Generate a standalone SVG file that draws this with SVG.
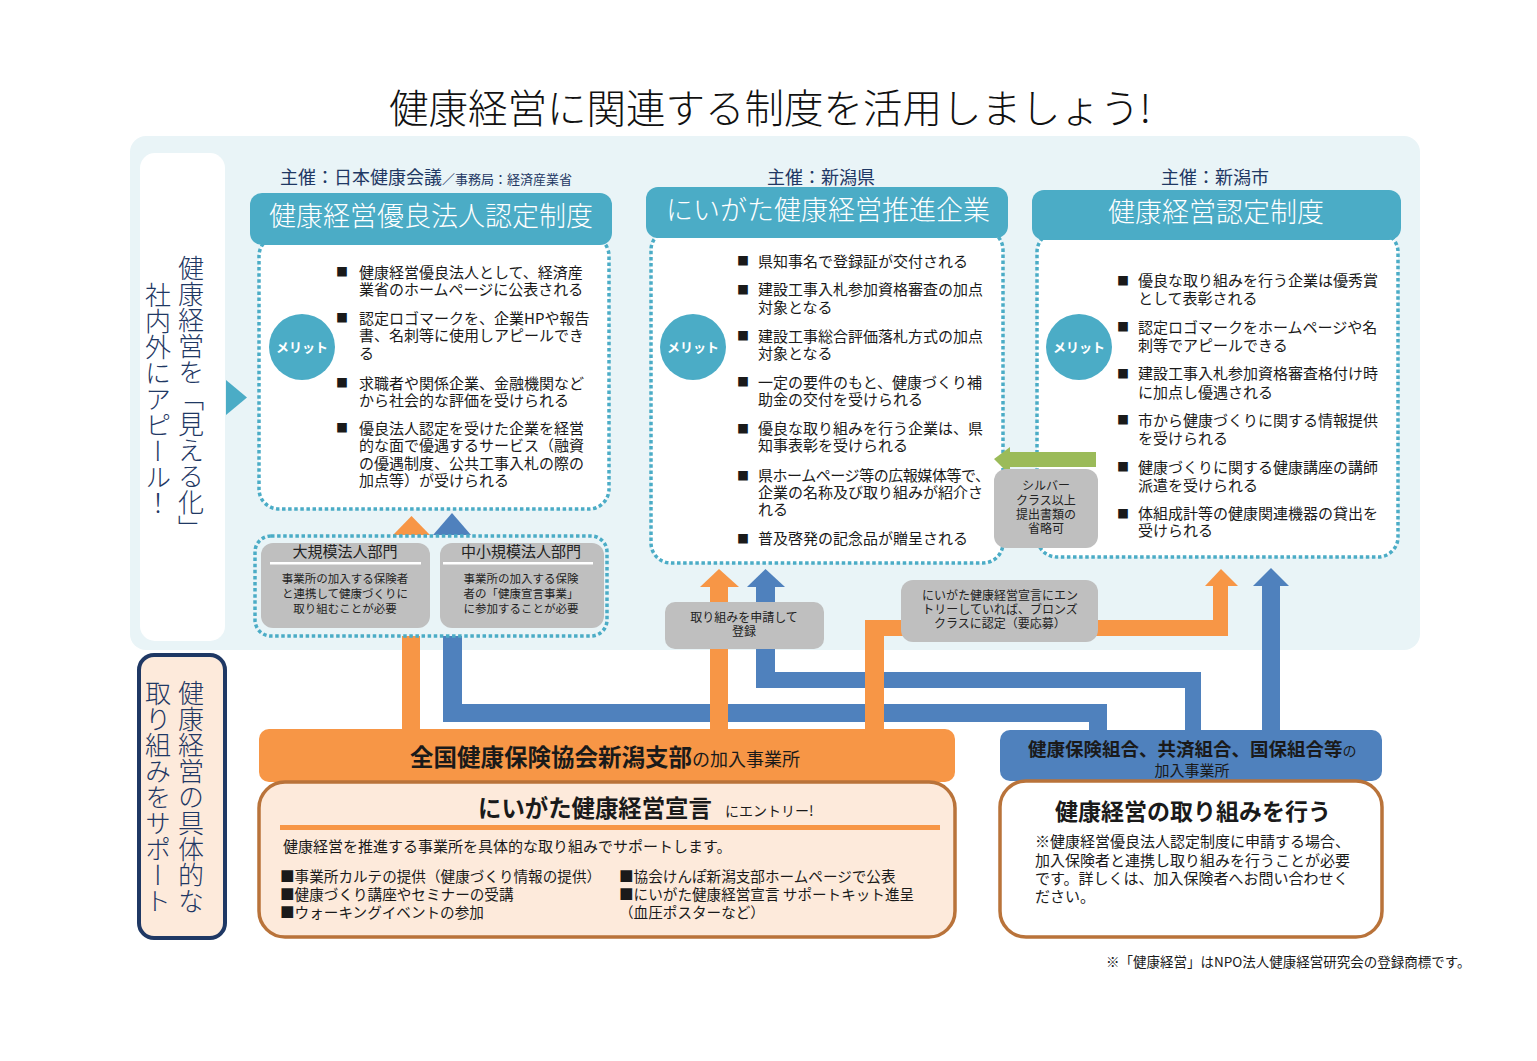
<svg xmlns="http://www.w3.org/2000/svg" width="1537" height="1061" viewBox="0 0 1537 1061">
<defs>
<style>
text{font-family:"Noto Sans CJK JP","Noto Sans",sans-serif;fill:#1a1a1a}
.ttl{font-size:39.5px;font-weight:300;fill:#111}
.sponsor{font-size:18px;fill:#1f3864}
.hdr{font-size:27px;fill:#fff;text-anchor:middle;font-weight:300}
.dot{fill:#fff;stroke:#4bacc6;stroke-width:3.5;stroke-dasharray:3.5 2.6}
.hbox{fill:#4bacc6}
.merit{fill:#4bacc6}
.mt{font-size:13px;font-weight:700;fill:#fff;text-anchor:middle}
.b{font-size:15px}
.bl{font-size:12px}
.vt{font-size:26px;fill:#1f3864;writing-mode:vertical-rl;font-weight:300}
.gray{fill:#bfbfbf}
.gs{font-size:12px;text-anchor:middle;fill:#222}
.gh{font-size:15px;text-anchor:middle;fill:#222}
.gb{font-size:11.5px;text-anchor:middle;fill:#222}
.or{fill:#f79646}
.bu{fill:#4f81bd}
.s{font-size:14.6px}
</style>
</defs>
<rect width="1537" height="1061" fill="#fff"/>
<text class="ttl" x="770" y="123" text-anchor="middle">健康経営に関連する制度を活用しましょう!</text>

<g id="panel">
<rect x="130" y="136" width="1290" height="514" rx="16" fill="#e9f4f7"/>
</g>

<g id="label-top">
<rect x="140" y="153" width="85" height="488" rx="15" fill="#fff"/>
<text class="vt" x="191" y="255">健康経営を「見える化」</text>
<text class="vt" x="158" y="282">社内外にアピール！</text>
<polygon points="226,380 247,397.5 226,415" fill="#4bacc6"/>
</g>

<g id="connectors">
<rect class="bu" x="443" y="636" width="19" height="86"/>
<rect class="bu" x="443" y="704" width="664" height="18"/>
<rect class="bu" x="1089" y="704" width="18" height="27"/>
<rect class="bu" x="756" y="585" width="19" height="103"/>
<polygon class="bu" points="747,587 765.5,569 785,587"/>
<rect class="bu" x="756" y="672" width="445" height="16"/>
<rect class="bu" x="1185" y="672" width="16" height="59"/>
<rect class="bu" x="1262" y="584" width="18" height="147"/>
<polygon class="bu" points="1253,586 1271,568 1289,586"/>
<polygon class="bu" points="433,535 452,513 471,535"/>
<rect class="or" x="402" y="636" width="18" height="95"/>
<rect class="or" x="710" y="585" width="18" height="146"/>
<polygon class="or" points="700,587 719,569 739,587"/>
<rect class="or" x="865" y="620" width="19" height="111"/>
<rect class="or" x="865" y="620" width="363" height="16"/>
<rect class="or" x="1213" y="584" width="15" height="52"/>
<polygon class="or" points="1205,586 1221,569 1238,586"/>
<polygon class="or" points="393,535 411.5,516 430,535"/>
</g>

<g id="node-yuryo">
<text class="sponsor" x="280" y="184">主催：日本健康会議<tspan font-size="13">／事務局：経済産業省</tspan></text>
<rect class="dot" x="259" y="236" width="350" height="273" rx="20"/>
<rect class="hbox" x="250" y="193" width="362" height="52" rx="12"/>
<text class="hdr" x="431" y="226">健康経営優良法人認定制度</text>
<circle class="merit" cx="302" cy="347" r="33"/>
<text class="mt" x="302" y="352">メリット</text>
<g class="b">
<text class="bl" x="336" y="277">■</text><text x="359" y="277.5">健康経営優良法人として、経済産</text>
<text x="359" y="295">業省のホームページに公表される</text>
<text class="bl" x="336" y="323">■</text><text x="359" y="323.5">認定ロゴマークを、企業HPや報告</text>
<text x="359" y="341">書、名刺等に使用しアピールでき</text>
<text x="359" y="358.5">る</text>
<text class="bl" x="336" y="388">■</text><text x="359" y="388.5">求職者や関係企業、金融機関など</text>
<text x="359" y="406">から社会的な評価を受けられる</text>
<text class="bl" x="336" y="433">■</text><text x="359" y="433.5">優良法人認定を受けた企業を経営</text>
<text x="359" y="451">的な面で優遇するサービス（融資</text>
<text x="359" y="468.5">の優遇制度、公共工事入札の際の</text>
<text x="359" y="486">加点等）が受けられる</text>
</g>
</g>

<g id="node-niigata-ken">
<text class="sponsor" x="821" y="184" text-anchor="middle">主催：新潟県</text>
<rect class="dot" x="651" y="230" width="352" height="333" rx="20"/>
<rect class="hbox" x="646" y="187" width="362" height="51" rx="12"/>
<text class="hdr" x="828" y="220">にいがた健康経営推進企業</text>
<circle class="merit" cx="693" cy="347" r="33"/>
<text class="mt" x="693" y="352">メリット</text>
<g class="b">
<text class="bl" x="737" y="266">■</text><text x="758" y="266.5">県知事名で登録証が交付される</text>
<text class="bl" x="737" y="294.5">■</text><text x="758" y="295">建設工事入札参加資格審査の加点</text>
<text x="758" y="312.5">対象となる</text>
<text class="bl" x="737" y="341">■</text><text x="758" y="341.5">建設工事総合評価落札方式の加点</text>
<text x="758" y="359">対象となる</text>
<text class="bl" x="737" y="387">■</text><text x="758" y="387.5">一定の要件のもと、健康づくり補</text>
<text x="758" y="405">助金の交付を受けられる</text>
<text class="bl" x="737" y="433.5">■</text><text x="758" y="434">優良な取り組みを行う企業は、県</text>
<text x="758" y="451">知事表彰を受けられる</text>
<text class="bl" x="737" y="480.5">■</text><text x="758" y="481" textLength="232">県ホームページ等の広報媒体等で、</text>
<text x="758" y="498">企業の名称及び取り組みが紹介さ</text>
<text x="758" y="515">れる</text>
<text class="bl" x="737" y="543.5">■</text><text x="758" y="544">普及啓発の記念品が贈呈される</text>
</g>
</g>

<g id="node-niigata-shi">
<text class="sponsor" x="1215" y="184" text-anchor="middle">主催：新潟市</text>
<rect class="dot" x="1037" y="232" width="361" height="325" rx="20"/>
<rect class="hbox" x="1032" y="190" width="369" height="50" rx="12"/>
<text class="hdr" x="1216" y="222">健康経営認定制度</text>
<circle class="merit" cx="1079" cy="347" r="33"/>
<text class="mt" x="1079" y="352">メリット</text>
<g class="b">
<text class="bl" x="1117" y="285.5">■</text><text x="1138" y="286">優良な取り組みを行う企業は優秀賞</text>
<text x="1138" y="304">として表彰される</text>
<text class="bl" x="1117" y="332">■</text><text x="1138" y="332.5">認定ロゴマークをホームページや名</text>
<text x="1138" y="350.5">刺等でアピールできる</text>
<text class="bl" x="1117" y="378.5">■</text><text x="1138" y="379">建設工事入札参加資格審査格付け時</text>
<text x="1138" y="397.5">に加点し優遇される</text>
<text class="bl" x="1117" y="425">■</text><text x="1138" y="425.5">市から健康づくりに関する情報提供</text>
<text x="1138" y="444">を受けられる</text>
<text class="bl" x="1117" y="472">■</text><text x="1138" y="472.5">健康づくりに関する健康講座の講師</text>
<text x="1138" y="491">派遣を受けられる</text>
<text class="bl" x="1117" y="518.5">■</text><text x="1138" y="519">体組成計等の健康関連機器の貸出を</text>
<text x="1138" y="536">受けられる</text>
</g>
</g>

<g id="node-silver">
<polygon points="994,459 1010,447 1010,452 1096,452 1096,467 1010,467 1010,475" fill="#9bbb59"/>
<rect class="gray" x="994" y="469" width="104" height="79" rx="12"/>
<text class="gs" x="1046" y="489.5">シルバー</text>
<text class="gs" x="1046" y="504.5">クラス以上</text>
<text class="gs" x="1046" y="519">提出書類の</text>
<text class="gs" x="1046" y="533">省略可</text>
</g>

<g id="node-sections">
<rect class="dot" x="255" y="536" width="352" height="100" rx="16" style="fill:none"/>
<rect class="gray" x="261" y="543" width="169" height="85" rx="12"/>
<rect class="gray" x="440" y="543" width="164" height="85" rx="12"/>
<text class="gh" x="345" y="557">大規模法人部門</text>
<text class="gh" x="521" y="557">中小規模法人部門</text>
<rect x="270" y="562" width="151" height="2.5" fill="#fff"/>
<rect x="443" y="562" width="150" height="2.5" fill="#fff"/>
<text class="gb" x="345" y="582.5">事業所の加入する保険者</text>
<text class="gb" x="345" y="597.5">と連携して健康づくりに</text>
<text class="gb" x="345" y="612.5">取り組むことが必要</text>
<text class="gb" x="521" y="582.5">事業所の加入する保険</text>
<text class="gb" x="521" y="597.5">者の「健康宣言事業」</text>
<text class="gb" x="521" y="612.5">に参加することが必要</text>
</g>

<g id="node-apply">
<rect class="gray" x="665" y="602" width="159" height="47" rx="10"/>
<text class="gs" x="744" y="621.5">取り組みを申請して</text>
<text class="gs" x="744" y="635.5">登録</text>
</g>

<g id="node-bronze">
<rect class="gray" x="901" y="580" width="197" height="62" rx="12"/>
<text class="gs" x="1000" y="599.5">にいがた健康経営宣言にエン</text>
<text class="gs" x="1000" y="614">トリーしていれば、ブロンズ</text>
<text class="gs" x="1000" y="627.5">クラスに認定（要応募）</text>
</g>

<g id="label-bottom">
<rect x="139" y="655" width="86" height="283" rx="15" fill="#fdeadb" stroke="#1f3864" stroke-width="4"/>
<text class="vt" x="191" y="680">健康経営の具体的な</text>
<text class="vt" x="158" y="680">取り組みをサポート</text>
</g>

<g id="node-kyokai">
<rect x="259" y="729" width="696" height="53" rx="10" fill="#f79646"/>
<text x="410" y="766" font-size="23.5" font-weight="700" fill="#111">全国健康保険協会新潟支部<tspan font-size="18" font-weight="400">の加入事業所</tspan></text>
<rect x="259" y="782" width="696" height="155" rx="26" fill="#fdeadb" stroke="#b9733a" stroke-width="3.5"/>
<text x="478" y="817" font-size="23.4" font-weight="700" fill="#111">にいがた健康経営宣言</text>
<text x="725" y="816" font-size="14">にエントリー!</text>
<rect x="280" y="825" width="660" height="5" fill="#f79646"/>
<text class="b" x="283" y="851.5">健康経営を推進する事業所を具体的な取り組みでサポートします。</text>
<text class="s" x="280" y="881.5">■事業所カルテの提供（健康づくり情報の提供）</text>
<text class="s" x="280" y="899.5">■健康づくり講座やセミナーの受講</text>
<text class="s" x="280" y="917.5">■ウォーキングイベントの参加</text>
<text class="s" x="619" y="881.5">■協会けんぽ新潟支部ホームページで公表</text>
<text class="s" x="619" y="899.5">■にいがた健康経営宣言 サポートキット進呈</text>
<text class="s" x="619" y="917.5">（血圧ポスターなど）</text>
</g>

<g id="node-kenpo">
<rect x="1000" y="730" width="382" height="51" rx="10" fill="#4f81bd"/>
<text x="1028" y="756" font-size="18.5" font-weight="700" fill="#fff">健康保険組合、共済組合、国保組合等<tspan font-size="14" font-weight="400">の</tspan></text>
<text x="1192" y="776" font-size="15" text-anchor="middle" fill="#fff">加入事業所</text>
<rect x="1000" y="781" width="382" height="156" rx="26" fill="#fff" stroke="#b9733a" stroke-width="3.5"/>
<text x="1193" y="820" font-size="23" font-weight="700" text-anchor="middle" fill="#1f497d">健康経営の取り組みを行う</text>
<text class="b" x="1035" y="847">※健康経営優良法人認定制度に申請する場合、</text>
<text class="b" x="1035" y="865.5">加入保険者と連携し取り組みを行うことが必要</text>
<text class="b" x="1035" y="884">です。詳しくは、加入保険者へお問い合わせく</text>
<text class="b" x="1035" y="902">ださい。</text>
</g>

<text x="1106" y="967" font-size="13.5">※「健康経営」はNPO法人健康経営研究会の登録商標です。</text>
</svg>
